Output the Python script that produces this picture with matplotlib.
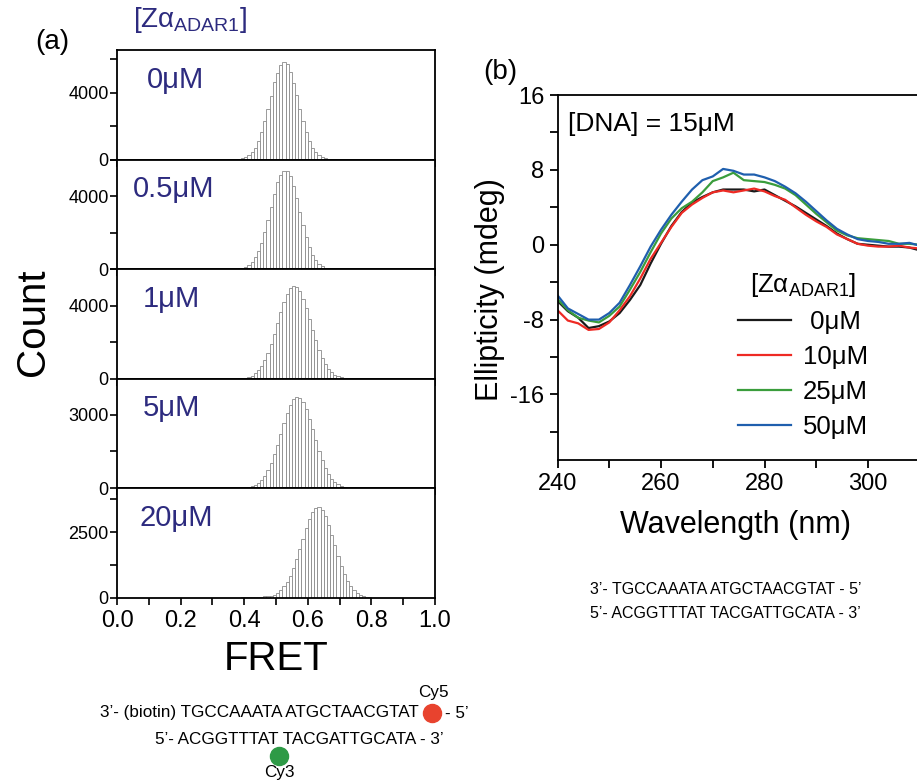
import numpy as np
import matplotlib.pyplot as plt
from matplotlib.ticker import MultipleLocator, FixedLocator, FormatStrFormatter

plt.rcParams['font.family'] = ['Liberation Sans', 'DejaVu Sans']
plt.rcParams['mathtext.fontset'] = 'custom'
plt.rcParams['mathtext.rm'] = 'Liberation Sans'
plt.rcParams['axes.unicode_minus'] = False

# ---- FRET histograms (bin width 0.01, first bin starts at 0.30) ----
bin_start = 0.30
bin_width = 0.01

conc_labels = ["0μM", "0.5μM", "1μM", "5μM", "20μM"]

counts_0 = [0, 0, 1, 2, 4, 6, 12, 22, 40, 78, 145, 262, 450, 720, 1120, 1650,
            2300, 3050, 3810, 4620, 5200, 5640, 5820, 5690, 5250, 4560, 3860,
            3010, 2280, 1650, 1090, 700, 430, 260, 145, 80, 40, 20, 9, 4, 2, 1,
            0, 0, 0, 0, 0, 0, 0, 0, 0, 0]
counts_05 = [0, 0, 1, 2, 4, 7, 13, 24, 44, 80, 140, 245, 410, 650, 990, 1450,
             2030, 2700, 3420, 4130, 4750, 5180, 5400, 5370, 5080, 4560, 3880,
             3150, 2420, 1770, 1230, 800, 500, 300, 170, 92, 48, 24, 11, 5, 2,
             1, 0, 0, 0, 0, 0, 0, 0, 0, 0, 0]
counts_1 = [0, 0, 0, 0, 1, 2, 4, 9, 17, 33, 60, 107, 180, 320, 480, 690, 1010,
            1400, 1890, 2430, 3030, 3630, 4190, 4650, 4960, 5100, 5040, 4790,
            4380, 3870, 3280, 2670, 2100, 1580, 1150, 810, 540, 350, 220, 130,
            76, 42, 22, 12, 6, 3, 1, 0, 0, 0, 0, 0]
counts_5 = [0, 0, 0, 0, 0, 1, 1, 3, 7, 12, 24, 44, 78, 131, 213, 331, 504, 735,
            1024, 1380, 1778, 2213, 2656, 3059, 3398, 3626, 3725, 3682, 3504,
            3205, 2825, 2395, 1954, 1533, 1156, 841, 589, 395, 257, 161, 95, 56,
            31, 16, 9, 4, 2, 1, 0, 0, 0, 0]
counts_20 = [0, 0, 0, 0, 0, 0, 0, 0, 15, 20, 25, 30, 35, 40, 45, 50, 60, 70, 95,
             130, 200, 300, 440, 620, 850, 1130, 1470, 1850, 2250, 2650, 2990,
             3260, 3420, 3450, 3340, 3110, 2790, 2410, 2000, 1600, 1230, 910,
             650, 445, 290, 185, 112, 66, 37, 20, 10, 5]
hist_counts = [counts_0, counts_05, counts_1, counts_5, counts_20]

y_max = [6550, 6000, 6000, 4450, 4170]
y_major = [[0, 4000], [0, 4000], [0, 4000], [0, 3000], [0, 2500]]
y_minor = [[2000, 6000], [2000, 6000], [2000, 6000], [1500], [1250, 3750]]

# ---- CD spectra ----
wavelength = [240, 242, 244, 246, 248, 250, 252, 254, 256, 258, 260, 262, 264,
              266, 268, 270, 272, 274, 276, 278, 280, 282, 284, 286, 288, 290,
              292, 294, 296, 298, 300, 302, 304, 306, 308, 310]
cd_0 = [-6.0, -7.1, -7.8, -8.9, -8.7, -8.2, -7.3, -5.9, -4.3, -2.0, 0.1, 2.0,
        3.5, 4.5, 5.1, 5.6, 5.9, 5.9, 5.9, 5.7, 5.9, 5.3, 4.7, 4.1, 3.4, 2.7,
        2.0, 1.2, 0.6, 0.1, 0.0, -0.1, -0.2, -0.2, -0.3, -0.6]
cd_10 = [-7.0, -8.1, -8.4, -9.1, -9.0, -8.3, -7.0, -5.5, -3.6, -1.5, 0.2, 1.9,
         3.4, 4.3, 5.0, 5.6, 5.8, 5.6, 5.8, 6.0, 5.7, 5.2, 4.8, 4.0, 3.2, 2.5,
         1.9, 1.1, 0.6, 0.1, -0.1, -0.2, -0.2, -0.1, -0.3, -0.4]
cd_25 = [-5.8, -7.0, -7.8, -8.1, -8.3, -7.6, -6.6, -4.8, -2.9, -0.8, 1.2, 2.8,
         3.9, 4.6, 5.6, 6.8, 7.2, 7.7, 6.9, 6.8, 6.7, 6.4, 6.0, 5.3, 4.3, 3.3,
         2.4, 1.5, 1.0, 0.7, 0.6, 0.5, 0.4, 0.1, 0.1, 0.0]
cd_50 = [-5.4, -6.8, -7.4, -8.0, -8.0, -7.3, -6.2, -4.3, -2.3, -0.2, 1.6, 3.2,
         4.6, 5.9, 6.9, 7.3, 8.1, 7.9, 7.5, 7.5, 7.2, 6.8, 6.2, 5.5, 4.6, 3.6,
         2.6, 1.7, 1.1, 0.6, 0.4, 0.3, 0.1, 0.1, 0.2, -0.1]
cd_series = [cd_0, cd_10, cd_25, cd_50]
cd_labels = [" 0μM", "10μM", "25μM", "50μM"]
cd_colors = ["#1a1a1a", "#ee2a24", "#3a9d3c", "#1f5fae"]

navy = "#2d2b7f"
zlabel = r"[Z$\mathrm{α}_{\mathrm{ADAR1}}$]"

fig = plt.figure(figsize=(9.17, 7.84), dpi=100)
W, H = 917, 784

def px_axes(left, top, right, bottom):
    return fig.add_axes([left / W, 1 - bottom / H, (right - left) / W, (bottom - top) / H])

##(a) stacked FRET histograms
edges = bin_start + bin_width * np.arange(len(counts_0))
label_x = [0.094, 0.05, 0.082, 0.082, 0.07]
top = 50
ph = 109.6
for i, cnt in enumerate(hist_counts):
    ax = px_axes(117, top + i * ph, 435, top + (i + 1) * ph)
    ax.bar(edges, cnt, width=bin_width, align='edge', color='white',
           edgecolor='#8a8a8a', linewidth=0.6)
    ax.set_xlim(0, 1)
    ax.set_ylim(0, y_max[i])
    ax.yaxis.set_major_locator(FixedLocator(y_major[i]))
    ax.yaxis.set_minor_locator(FixedLocator(y_minor[i]))
    ax.xaxis.set_major_locator(FixedLocator([0, 0.2, 0.4, 0.6, 0.8, 1.0]))
    ax.xaxis.set_minor_locator(FixedLocator([0.1, 0.3, 0.5, 0.7, 0.9]))
    ax.xaxis.set_major_formatter(FormatStrFormatter('%.1f'))
    ax.tick_params(axis='y', which='both', direction='out', length=5, width=1.2,
                   labelsize=13, pad=1)
    ax.tick_params(axis='x', which='both', direction='out', length=5, width=1.2,
                   labelsize=17)
    if i < 4:
        ax.tick_params(axis='x', labelbottom=False)
    for s in ax.spines.values():
        s.set_linewidth(1.3)
    ax.text(label_x[i], 0.73, conc_labels[i], transform=ax.transAxes,
            color=navy, fontsize=21, va='center', ha='left')
    if i == 4:
        ax.set_xlabel("FRET", fontsize=29, labelpad=6)

fig.text(33 / W, 1 - 322 / H, "Count", rotation=90, fontsize=29, ha='center', va='center')
fig.text(52 / W, 1 - 42 / H, "(a)", fontsize=20, ha='center', va='center')
fig.text(190 / W, 1 - 20 / H, zlabel, fontsize=20, ha='center', va='center', color=navy)

# duplex used for smFRET
seq_fs = 12.3
fig.text(100 / W, 1 - 713 / H, "3’- (biotin) TGCCAAATA ATGCTAACGTAT",
         fontsize=seq_fs, ha='left', va='center')
fig.text(445 / W, 1 - 713 / H, "- 5’", fontsize=seq_fs, ha='left', va='center')
fig.text(155 / W, 1 - 740 / H, "5’- ACGGTTTAT TACGATTGCATA - 3’",
         fontsize=seq_fs, ha='left', va='center')
fig.text(433 / W, 1 - 693 / H, "Cy5", fontsize=seq_fs, ha='center', va='center')
fig.text(279 / W, 1 - 773 / H, "Cy3", fontsize=seq_fs, ha='center', va='center')
ov = fig.add_axes([0, 0, 1, 1], facecolor='none')
ov.set_xlim(0, W)
ov.set_ylim(H, 0)
ov.axis('off')
ov.plot([432], [713], 'o', ms=13, color='#e8432e')
ov.plot([279], [756], 'o', ms=13, color='#2e9a46')

##(b) CD spectra
bx = px_axes(557.5, 95, 557.5 + 80 * 5.175, 460)
for y, c, lab in zip(cd_series, cd_colors, cd_labels):
    bx.plot(wavelength, y, color=c, linewidth=1.6, label=lab)
bx.set_xlim(240, 320)
bx.set_ylim(-23, 16)
bx.xaxis.set_major_locator(FixedLocator([240, 260, 280, 300]))
bx.xaxis.set_minor_locator(FixedLocator([250, 270, 290, 310]))
bx.yaxis.set_major_locator(MultipleLocator(8))
bx.yaxis.set_minor_locator(FixedLocator([-20, -12, -4, 4, 12]))
bx.tick_params(which='both', direction='out', length=6, width=1.3, labelsize=17)
for s in bx.spines.values():
    s.set_linewidth(1.3)
bx.set_xlabel("Wavelength (nm)", fontsize=22)
bx.xaxis.set_label_coords(0.429, -0.137)
bx.set_ylabel("Ellipticity (mdeg)", fontsize=22)
bx.yaxis.set_label_coords(-0.127, 0.466)
bx.text(0.025, 0.92, "[DNA] = 15μM", transform=bx.transAxes, fontsize=19,
        ha='left', va='center')
leg = bx.legend(title=zlabel, loc='upper left', bbox_to_anchor=(0.41, 0.545),
                frameon=False, fontsize=18.5, title_fontsize=18.5, handlelength=2.1,
                handletextpad=0.45, labelspacing=0.42, borderaxespad=0)
fig.text(500 / W, 1 - 72 / H, "(b)", fontsize=20, ha='center', va='center')

fig.text(590 / W, 1 - 590 / H, "3’- TGCCAAATA ATGCTAACGTAT - 5’",
         fontsize=11.5, ha='left', va='center')
fig.text(590 / W, 1 - 614 / H, "5’- ACGGTTTAT TACGATTGCATA - 3’",
         fontsize=11.5, ha='left', va='center')

plt.savefig("out.png", dpi=100)
